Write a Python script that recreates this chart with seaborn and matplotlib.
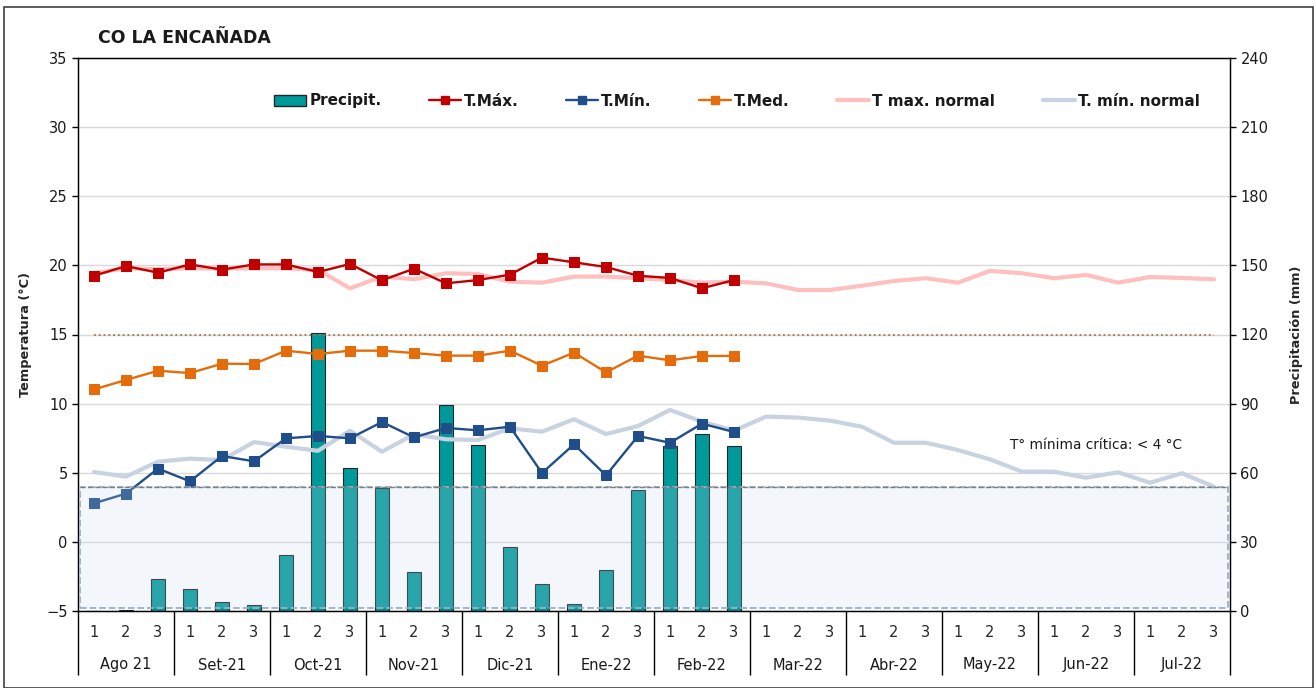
import numpy as np
import pandas as pd
import matplotlib
matplotlib.use("Agg")
import matplotlib.pyplot as plt
import matplotlib.transforms as mtransforms
from matplotlib.patches import Rectangle, Patch
from matplotlib.lines import Line2D
import seaborn as sns

# datos por década (1, 2, 3) de cada mes
meses = ["Ago 21", "Set-21", "Oct-21", "Nov-21", "Dic-21", "Ene-22",
         "Feb-22", "Mar-22", "Abr-22", "May-22", "Jun-22", "Jul-22"]
decadas = ["1", "2", "3"] * len(meses)

precip = [0.0, 0.3, 13.7, 9.7, 3.9, 2.5, 24.2, 120.5, 62.1, 53.5, 16.8,
          89.5, 72.0, 27.8, 11.6, 2.9, 17.8, 52.5, 71.6, 76.7, 71.6]
t_max = [19.25, 19.95, 19.47, 20.07, 19.69, 20.07, 20.07, 19.52, 20.1, 18.92, 19.76,
         18.70, 18.94, 19.33, 20.56, 20.22, 19.88, 19.25, 19.09, 18.34, 18.94]
t_min = [2.79, 3.49, 5.30, 4.38, 6.21, 5.83, 7.49, 7.66, 7.49, 8.67, 7.56,
         8.24, 8.07, 8.33, 4.98, 7.06, 4.81, 7.66, 7.17, 8.55, 7.95]
t_med = [11.03, 11.71, 12.38, 12.21, 12.89, 12.87, 13.83, 13.59, 13.83, 13.83, 13.66,
         13.47, 13.47, 13.83, 12.74, 13.69, 12.26, 13.47, 13.13, 13.45, 13.45]
t_max_normal = [19.43, 19.79, 19.72, 19.79, 19.77, 19.79, 19.79, 19.67, 18.34, 19.19, 19.0, 19.43,
                19.38, 18.82, 18.75, 19.19, 19.19, 19.07, 18.94, 18.75, 18.82, 18.70, 18.22, 18.22,
                18.53, 18.87, 19.07, 18.75, 19.6, 19.43, 19.07, 19.31, 18.75, 19.16, 19.09, 18.99]
t_min_normal = [5.05, 4.72, 5.80, 6.02, 5.92, 7.22, 6.88, 6.59, 8.04, 6.52, 7.78, 7.42,
                7.37, 8.21, 7.97, 8.87, 7.80, 8.38, 9.54, 8.7, 8.04, 9.06, 8.99, 8.77,
                8.33, 7.17, 7.17, 6.64, 5.97, 5.08, 5.08, 4.64, 5.03, 4.28, 4.96, 3.99]
umbral_helada = 4      # T° mínima crítica
umbral_piso = -4.8     # base de la franja sombreada
linea_ref = 15

idx = np.arange(len(decadas))
n_obs = len(t_max)

sns.set_theme(style="white")
plt.rcParams['font.family'] = ['DejaVu Sans']
plt.rcParams['text.color'] = '#1a1a1a'

fig = plt.figure(figsize=(13.16, 6.88), dpi=100)
ax_p = fig.add_axes([78 / 1316, 1 - 611 / 688, 1152 / 1316, 553 / 688])
ax_t = ax_p.twinx()

# precipitación (eje derecho, dibujado debajo)
ax_p.yaxis.grid(True, color='#d9d9d9', lw=1)
ax_p.set_axisbelow(True)
sns.barplot(x=idx[:n_obs], y=precip, native_scale=True, width=0.45, color='#009999',
            saturation=1, edgecolor='#262626', linewidth=0.8, ax=ax_p)
ax_p.set_ylim(0, 240)
ax_p.set_yticks(np.arange(0, 241, 30))
ax_p.yaxis.tick_right()
ax_p.yaxis.set_label_position('right')
ax_p.set_ylabel("Precipitación (mm)", fontweight='bold', fontsize=9.3)
ax_p.yaxis.set_label_coords(1 + 1212 / 1152 - 1, 0.5)

# temperaturas (eje izquierdo)
sns.lineplot(x=idx, y=t_max_normal, color='#ffbfbf', lw=3, ax=ax_t)
sns.lineplot(x=idx, y=t_min_normal, color='#c8d2e0', lw=3, ax=ax_t)
ax_t.hlines(linea_ref, idx[0], idx[-1], colors='#a07850', linestyles=':', lw=1.3)
for serie, col in [(t_max, '#c00000'), (t_med, '#e46c0a'), (t_min, '#1f4e8a')]:
    sns.lineplot(x=idx[:n_obs], y=serie, color=col, lw=1.7, marker='s', markersize=7,
                 markeredgecolor=col, ax=ax_t)
ax_t.set_ylim(-5, 35)
ax_t.set_yticks(np.arange(-5, 36, 5))
ax_t.yaxis.tick_left()
ax_t.yaxis.set_label_position('left')
ax_t.set_ylabel("Temperatura (°C)", fontweight='bold', fontsize=9.3)
ax_t.yaxis.set_label_coords(-46 / 1152, 0.5)

# franja de heladas
ax_t.add_patch(Rectangle((-0.45, umbral_piso), 35.9, umbral_helada - umbral_piso,
                         facecolor='#c6d7ef', alpha=0.2, edgecolor='none', zorder=10))
ax_t.add_patch(Rectangle((-0.45, umbral_piso), 35.9, umbral_helada - umbral_piso,
                         facecolor='none', edgecolor='#9bb0cc', ls='--', lw=1.3, zorder=11))
ax_t.hlines(umbral_helada, -0.45, 35.45, colors='#7f7f7f', linestyles='--', lw=1, zorder=12)
ax_t.text(28.62, 7.0, "T° mínima crítica: < 4 °C", fontsize=9.8, ha='left', va='center')

# eje x de dos niveles
ax_p.set_xlim(-0.5, 35.5)
ax_t.set_xlim(-0.5, 35.5)
ax_p.set_xticks(idx)
ax_p.set_xticklabels(decadas, fontsize=10.5)
ax_p.set_xticks(np.arange(-0.5, len(idx), 1), minor=True)
ax_p.tick_params(axis='x', which='major', length=0, pad=10)
ax_p.tick_params(axis='x', which='minor', length=23, width=1, color='black', direction='out')
ax_p.set_xlabel("")
trans = mtransforms.blended_transform_factory(ax_p.transData, ax_p.transAxes)
ax_p.vlines(np.arange(-0.5, len(idx), 3), -64 / 553, 0, transform=trans,
            colors='black', lw=1, clip_on=False)
for i, m in enumerate(meses):
    ax_p.text(3 * i + 1, -54 / 553, m, transform=trans, ha='center', va='center', fontsize=10.5)

for a in (ax_p, ax_t):
    a.tick_params(axis='y', length=4, width=1, color='black', direction='out', labelsize=10.5,
                  labelcolor='#1a1a1a')
    for s in a.spines.values():
        s.set_color('black')
        s.set_linewidth(0.9)

# leyenda
handles = [
    Patch(facecolor='#009999', edgecolor='#262626'),
    Line2D([], [], color='#c00000', marker='s', ms=6, lw=1.7),
    Line2D([], [], color='#1f4e8a', marker='s', ms=6, lw=1.7),
    Line2D([], [], color='#e46c0a', marker='s', ms=6, lw=1.7),
    Line2D([], [], color='#ffbfbf', lw=3),
    Line2D([], [], color='#c8d2e0', lw=3),
]
labels = ["Precipit.", "T.Máx.", "T.Mín.", "T.Med.", "T max. normal", "T. mín. normal"]
fig.legend(handles, labels, ncol=6, frameon=False, loc='center',
           bbox_to_anchor=(737 / 1316, 1 - 101 / 688), handlelength=2.1,
           handletextpad=0.2, columnspacing=3.1, prop={'weight': 'bold', 'size': 11})

fig.text(98 / 1316, 1 - 38 / 688, "CO LA ENCAÑADA", fontweight='bold', fontsize=12.5,
         ha='left', va='center')
fig.patches.append(Rectangle((0.003, 0.0), 0.995, 0.99, transform=fig.transFigure,
                             fill=False, edgecolor='#404040', lw=1.2))

fig.savefig("out.png", dpi=100)
